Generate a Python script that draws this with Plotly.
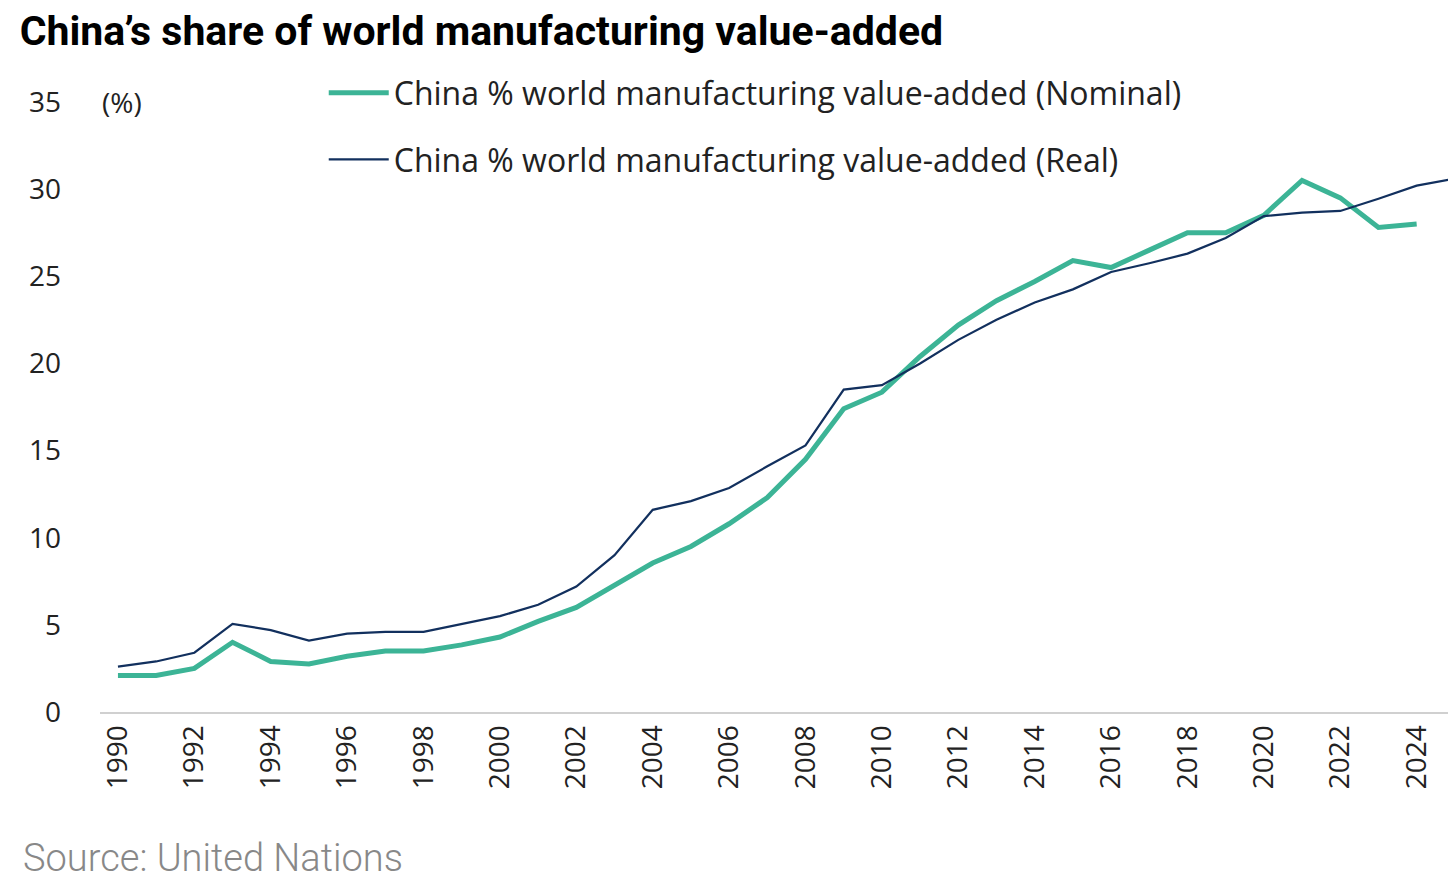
import plotly.graph_objects as go

years_nom = list(range(1990, 2025))
nominal = [2.1, 2.1, 2.5, 4.0, 2.9, 2.75, 3.2, 3.5, 3.5, 3.85, 4.3, 5.2, 6.0, 7.3, 8.55, 9.5,
           10.8, 12.3, 14.5, 17.4, 18.35, 20.4, 22.2, 23.6, 24.7, 25.9, 25.5, 26.5, 27.5, 27.5,
           28.5, 30.5, 29.5, 27.8, 28.0]
years_real = list(range(1990, 2026))
real = [2.6, 2.9, 3.4, 5.05, 4.7, 4.1, 4.5, 4.6, 4.6, 5.05, 5.5, 6.15, 7.2, 9.0, 11.6, 12.1,
        12.85, 14.1, 15.3, 18.5, 18.75, 20.0, 21.35, 22.5, 23.5, 24.25, 25.25, 25.75, 26.3, 27.2,
        28.45, 28.65, 28.75, 29.45, 30.2, 30.6]
xticks = list(range(1990, 2025, 2))
yticks = [0, 5, 10, 15, 20, 25, 30, 35]

fig = go.Figure()
fig.add_trace(go.Scatter(x=years_nom, y=nominal, mode="lines", legendgroup="a",
                         name="China % world manufacturing value-added (Nominal)",
                         line=dict(color="#3cb496", width=5)))
fig.add_trace(go.Scatter(x=years_real, y=real, mode="lines", legendgroup="b",
                         name="China % world manufacturing value-added (Real)",
                         line=dict(color="#12305e", width=2.2)))

font = "Open Sans, Noto Sans, sans-serif"
fig.update_layout(
    width=1456, height=878, plot_bgcolor="white", paper_bgcolor="white",
    margin=dict(l=92, r=8, t=94, b=174),
    font=dict(family=font, size=28, color="#222"),
    title=dict(text="China’s share of world manufacturing value-added", x=0.008, xanchor="left",
               y=0.99, yanchor="top", font=dict(family="Roboto, sans-serif", size=41, color="black", weight="bold")),
    legend=dict(x=0.165, y=1.06, xanchor="left", yanchor="top", bgcolor="rgba(0,0,0,0)",
                font=dict(size=32, color="#222"), tracegroupgap=22, itemwidth=60),
    xaxis=dict(range=[1989.53, 2025.03], tickvals=xticks, tickangle=-90, showgrid=False,
               showline=True, linecolor="#d0d0d0", linewidth=2, ticks="", zeroline=False,
               tickfont=dict(size=28)),
    yaxis=dict(range=[0, 35], tickvals=yticks, showgrid=False, zeroline=False, ticks="",
               ticklabelstandoff=38, tickfont=dict(size=28)),
    annotations=[
        dict(text="(%)", xref="paper", yref="paper", x=0.0, y=1.0, xanchor="left",
             yanchor="middle", showarrow=False, font=dict(size=28, color="#222")),
        dict(text="Source: United Nations", xref="paper", yref="paper", x=-0.058, y=-0.24,
             xanchor="left", yanchor="middle", showarrow=False,
             font=dict(family="Roboto, sans-serif", size=38, color="#888", weight=300)),
    ],
)
fig.write_html("out.html")
